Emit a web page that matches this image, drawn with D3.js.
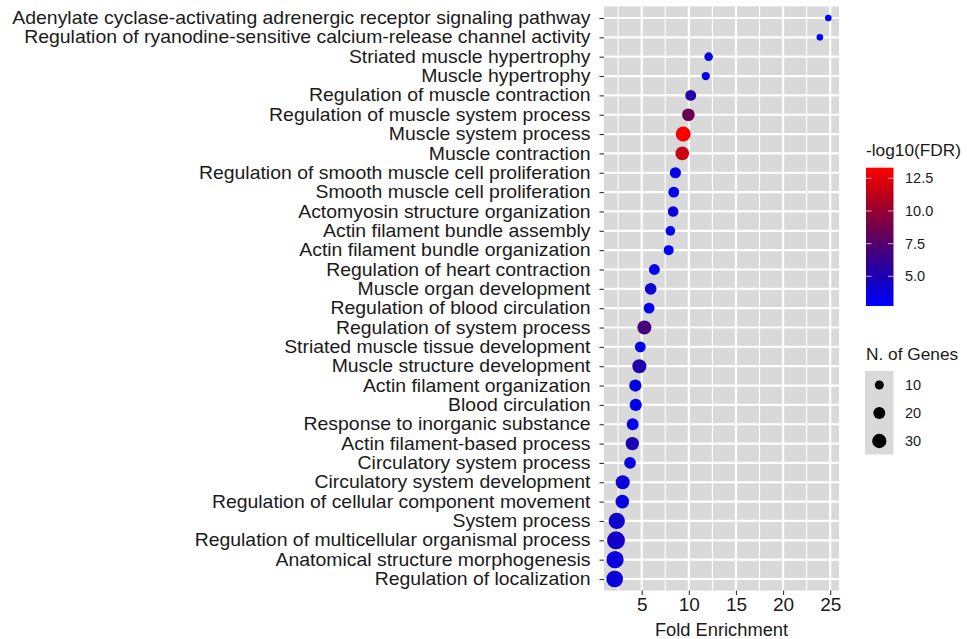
<!DOCTYPE html>
<html>
<head>
<meta charset="utf-8">
<script src="https://cdn.jsdelivr.net/npm/d3@7"></script>
<style>
  html, body { margin: 0; padding: 0; background: #fff; }
  svg { display: block; font-family: "Liberation Sans", Arial, Helvetica, sans-serif; }
</style>
</head>
<body>
<svg id="chart" width="967" height="639"></svg>
<script>
// GO terms, top to bottom
const terms = [
  "Adenylate cyclase-activating adrenergic receptor signaling pathway",
  "Regulation of ryanodine-sensitive calcium-release channel activity",
  "Striated muscle hypertrophy",
  "Muscle hypertrophy",
  "Regulation of muscle contraction",
  "Regulation of muscle system process",
  "Muscle system process",
  "Muscle contraction",
  "Regulation of smooth muscle cell proliferation",
  "Smooth muscle cell proliferation",
  "Actomyosin structure organization",
  "Actin filament bundle assembly",
  "Actin filament bundle organization",
  "Regulation of heart contraction",
  "Muscle organ development",
  "Regulation of blood circulation",
  "Regulation of system process",
  "Striated muscle tissue development",
  "Muscle structure development",
  "Actin filament organization",
  "Blood circulation",
  "Response to inorganic substance",
  "Actin filament-based process",
  "Circulatory system process",
  "Circulatory system development",
  "Regulation of cellular component movement",
  "System process",
  "Regulation of multicellular organismal process",
  "Anatomical structure morphogenesis",
  "Regulation of localization"
];

const foldEnrichment = [
  24.8, 23.9, 12.1, 11.8, 10.2, 9.95, 9.4, 9.3, 8.57, 8.4,
  8.33, 8.04, 7.86, 6.34, 5.95, 5.78, 5.28, 4.85, 4.75, 4.32,
  4.36, 4.04, 4.0, 3.76, 2.98, 2.94, 2.35, 2.27, 2.17, 2.13
];

const nGenes = [
  4, 4, 9, 8, 16, 23, 33, 27, 17, 16,
  15, 12, 13, 16, 19, 16, 29, 16, 29, 21,
  21, 20, 26, 19, 29, 27, 40, 49, 45, 42
];

const negLog10FDR = [
  2.73, 2.9, 3.4, 3.4, 5.4, 8.5, 13.31, 11.7, 3.5, 3.2,
  3.8, 3.0, 3.0, 3.0, 4.0, 3.3, 7.0, 3.2, 5.2, 3.5,
  3.3, 3.3, 5.0, 3.6, 3.8, 3.6, 4.2, 4.4, 3.8, 3.9
];

const xTicks = [5, 10, 15, 20, 25];
const xMinor = [2.5, 7.5, 12.5, 17.5, 22.5];
const colorTicks = [5.0, 7.5, 10.0, 12.5];
const sizeBreaks = [10, 20, 30];

const svg = d3.select("#chart");
const panel = { left: 604, right: 839, top: 6.4, bottom: 590.6 };

// continuous axis with 5% expansion on each side
const [feMin, feMax] = d3.extent(foldEnrichment);
const feExp = (feMax - feMin) * 0.05;
const x = d3.scaleLinear()
  .domain([feMin - feExp, feMax + feExp])
  .range([panel.left, panel.right]);

// discrete axis with 0.6-step expansion
const y = d3.scalePoint()
  .domain(terms)
  .range([panel.top, panel.bottom])
  .padding(0.6);

const color = d3.scaleLinear()
  .domain(d3.extent(negLog10FDR))
  .range(["#0000ff", "#ff0000"])
  .interpolate(d3.interpolateRgb.gamma(0.7));

const radius = d3.scaleRadial()
  .domain([0, 50])
  .range([2.2, 9.05]);

// panel background
svg.append("rect")
  .attr("x", panel.left).attr("y", panel.top)
  .attr("width", panel.right - panel.left)
  .attr("height", panel.bottom - panel.top)
  .attr("fill", "#d9d9d9");

const grid = svg.append("g").attr("stroke", "#fff");
grid.selectAll("line.minor").data(xMinor).join("line")
  .attr("class", "minor")
  .attr("x1", d => x(d)).attr("x2", d => x(d))
  .attr("y1", panel.top).attr("y2", panel.bottom)
  .attr("stroke-width", 1.1);
grid.selectAll("line.majx").data(xTicks).join("line")
  .attr("class", "majx")
  .attr("x1", d => x(d)).attr("x2", d => x(d))
  .attr("y1", panel.top).attr("y2", panel.bottom)
  .attr("stroke-width", 2.2);
grid.selectAll("line.majy").data(terms).join("line")
  .attr("class", "majy")
  .attr("x1", panel.left).attr("x2", panel.right)
  .attr("y1", d => y(d)).attr("y2", d => y(d))
  .attr("stroke-width", 2.2);

// points
const rows = terms.map((t, i) => ({
  term: t, fe: foldEnrichment[i], n: nGenes[i], fdr: negLog10FDR[i]
}));
svg.append("g").selectAll("circle").data(rows).join("circle")
  .attr("cx", d => x(d.fe))
  .attr("cy", d => y(d.term))
  .attr("r", d => radius(d.n))
  .attr("fill", d => color(d.fdr));

// axes
const xAxis = svg.append("g")
  .attr("transform", `translate(0,${panel.bottom})`)
  .call(d3.axisBottom(x).tickValues(xTicks).tickSize(4.5).tickPadding(2).tickFormat(d3.format("d")));
xAxis.select(".domain").remove();
xAxis.selectAll(".tick line").attr("stroke", "#333").attr("stroke-width", 1.1);
xAxis.selectAll(".tick text").attr("fill", "#1a1a1a").style("font-size", "19px");

// term labels: wide lettering, stretched horizontally
const labelStretch = 1.11;
const labelOffset = 13.5;
const yAxis = svg.append("g")
  .attr("transform", `translate(${panel.left},0)`)
  .call(d3.axisLeft(y).tickSize(4.5).tickPadding(9));
yAxis.select(".domain").remove();
yAxis.selectAll(".tick line").attr("stroke", "#333").attr("stroke-width", 1.1);
yAxis.selectAll(".tick text")
  .attr("fill", "#1a1a1a")
  .attr("x", -labelOffset / labelStretch)
  .attr("transform", `scale(${labelStretch},1)`)
  .style("font-size", "17.5px");

svg.append("text")
  .attr("x", (panel.left + panel.right) / 2)
  .attr("y", 636)
  .attr("text-anchor", "middle")
  .attr("fill", "#1a1a1a")
  .style("font-size", "18.3px")
  .text("Fold Enrichment");

// colour legend
const cb = { x: 866, y: 167.7, w: 27.5, h: 138.3 };
svg.append("text")
  .attr("x", 866).attr("y", 156)
  .attr("fill", "#1a1a1a")
  .style("font-size", "17.3px")
  .text("-log10(FDR)");

const grad = svg.append("defs").append("linearGradient")
  .attr("id", "fdrGrad")
  .attr("x1", 0).attr("y1", 1).attr("x2", 0).attr("y2", 0);
const [cMin, cMax] = color.domain();
d3.range(0, 1.0001, 0.05).forEach(t => {
  grad.append("stop")
    .attr("offset", t)
    .attr("stop-color", color(cMin + t * (cMax - cMin)));
});
svg.append("rect")
  .attr("x", cb.x).attr("y", cb.y)
  .attr("width", cb.w).attr("height", cb.h)
  .attr("fill", "url(#fdrGrad)");

const cbScale = d3.scaleLinear().domain([cMin, cMax]).range([cb.y + cb.h, cb.y]);
const cbTicks = svg.append("g");
colorTicks.forEach(v => {
  const ty = cbScale(v);
  cbTicks.append("line")
    .attr("x1", cb.x).attr("x2", cb.x + 5.5)
    .attr("y1", ty).attr("y2", ty)
    .attr("stroke", "#e6a0d0").attr("stroke-width", 1);
  cbTicks.append("line")
    .attr("x1", cb.x + cb.w - 5.5).attr("x2", cb.x + cb.w)
    .attr("y1", ty).attr("y2", ty)
    .attr("stroke", "#e6a0d0").attr("stroke-width", 1);
  cbTicks.append("text")
    .attr("x", 905).attr("y", ty)
    .attr("dy", "0.35em")
    .attr("fill", "#1a1a1a")
    .style("font-size", "14.5px")
    .text(d3.format(".1f")(v));
});

// size legend
svg.append("text")
  .attr("x", 866).attr("y", 360)
  .attr("fill", "#1a1a1a")
  .style("font-size", "17.3px")
  .text("N. of Genes");

svg.append("rect")
  .attr("x", 865).attr("y", 371)
  .attr("width", 28.5).attr("height", 83.5)
  .attr("fill", "#d9d9d9");

const keyY = d3.scalePoint().domain(sizeBreaks).range([385, 441]);
const keys = svg.append("g");
sizeBreaks.forEach(b => {
  keys.append("circle")
    .attr("cx", 879.3).attr("cy", keyY(b))
    .attr("r", radius(b))
    .attr("fill", "#000");
  keys.append("text")
    .attr("x", 905).attr("y", keyY(b))
    .attr("dy", "0.35em")
    .attr("fill", "#1a1a1a")
    .style("font-size", "14.5px")
    .text(b);
});
</script>
</body>
</html>
